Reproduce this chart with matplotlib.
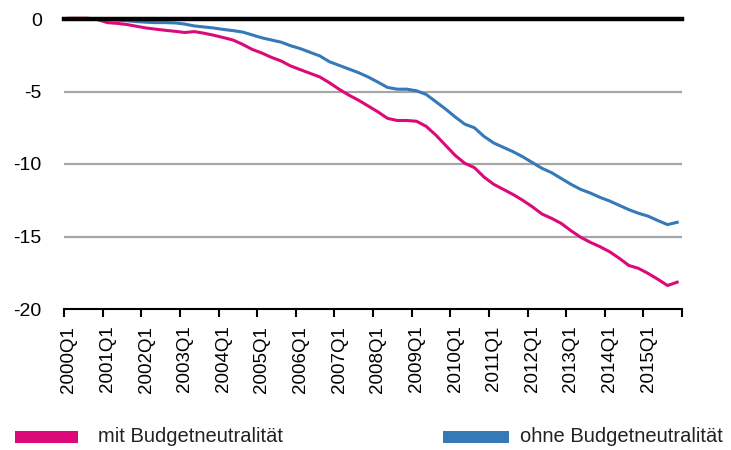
import matplotlib
matplotlib.use("Agg")
import matplotlib.pyplot as plt
from matplotlib.patches import Rectangle
import numpy as np

plt.rcParams['font.family'] = ['Liberation Sans Narrow', 'Liberation Sans', 'DejaVu Sans']

years = list(range(2000, 2016))
quarters = [f"{y}Q{q}" for y in years for q in range(1, 5)]
tick_labels = [f"{y}Q1" for y in years]

mit_budget = [0.05, 0.05, 0.05, -0.05, -0.25, -0.3, -0.38, -0.5, -0.62, -0.7,
              -0.78, -0.85, -0.93, -0.87, -0.98, -1.12, -1.28, -1.45, -1.75, -2.1,
              -2.35, -2.65, -2.9, -3.25, -3.5, -3.75, -4.0, -4.4, -4.85, -5.25,
              -5.6, -6.0, -6.4, -6.85, -7.0, -7.0, -7.05, -7.4, -8.0, -8.7,
              -9.4, -9.95, -10.25, -10.9, -11.4, -11.75, -12.1, -12.5, -12.95, -13.45,
              -13.75, -14.1, -14.6, -15.05, -15.4, -15.7, -16.05, -16.5, -17.0, -17.2,
              -17.55, -17.95, -18.38, -18.15]
ohne_budget = [0.0, 0.0, 0.0, -0.02, -0.05, -0.08, -0.12, -0.18, -0.22, -0.25,
               -0.25, -0.27, -0.35, -0.48, -0.55, -0.62, -0.72, -0.8, -0.9, -1.1,
               -1.3, -1.45, -1.6, -1.85, -2.05, -2.3, -2.55, -2.95, -3.2, -3.45,
               -3.7, -4.0, -4.35, -4.72, -4.84, -4.84, -4.95, -5.2, -5.7, -6.2,
               -6.75, -7.25, -7.5, -8.1, -8.55, -8.85, -9.15, -9.5, -9.9, -10.3,
               -10.6, -11.0, -11.4, -11.75, -12.0, -12.3, -12.55, -12.85, -13.15, -13.4,
               -13.6, -13.9, -14.18, -14.02]

pink = '#DC0A78'
blue = '#3479B8'

W, H = 731, 450
fig = plt.figure(figsize=(W / 100, H / 100), dpi=100)
ax = fig.add_axes([64 / W, 1 - 309 / H, (682 - 64) / W, (309 - 19) / H])

x = np.arange(len(quarters))
ax.set_xlim(-0.5, len(quarters) - 0.5)
ax.set_ylim(-20, 0)

for yv in [-5, -10, -15]:
    ax.axhline(yv, color='#A6A6A6', lw=1.6, zorder=1)

ax.plot(x, mit_budget, color=pink, lw=2.2, zorder=3, clip_on=False)
ax.plot(x, ohne_budget, color=blue, lw=2.2, zorder=3, clip_on=False)
ax.axhline(0, color='black', lw=3.2, zorder=4, clip_on=False)

for s in ['top', 'right', 'left']:
    ax.spines[s].set_visible(False)
ax.spines['bottom'].set_linewidth(1.5)
ax.spines['bottom'].set_color('black')

ax.set_yticks([0, -5, -10, -15, -20])
ax.set_yticklabels(['0', '-5', '-10', '-15', '-20'], fontsize=14)
ax.tick_params(axis='y', length=0, pad=16)

ax.set_xticks(np.arange(-0.5, len(quarters), 4))
ax.set_xticklabels([])
ax.set_xticks(np.arange(0, len(quarters), 4), minor=True)
ax.set_xticklabels(tick_labels, minor=True, rotation=90, fontsize=13.5)
ax.tick_params(axis='x', which='major', length=6, width=1.5, direction='out')
ax.tick_params(axis='x', which='minor', length=0, pad=12)

# legend
fig.add_artist(Rectangle((15 / W, 1 - 443 / H), 63 / W, 12 / H,
                         transform=fig.transFigure, color=pink, lw=0))
fig.text(98 / W, 1 - 437 / H, 'mit Budgetneutralität', fontsize=14.5,
         va='center', ha='left', color='#222222')
fig.add_artist(Rectangle((443 / W, 1 - 443 / H), 66 / W, 12 / H,
                         transform=fig.transFigure, color=blue, lw=0))
fig.text(520 / W, 1 - 437 / H, 'ohne Budgetneutralität', fontsize=14.5,
         va='center', ha='left', color='#222222')

fig.savefig('out.png', dpi=100, facecolor='white')
